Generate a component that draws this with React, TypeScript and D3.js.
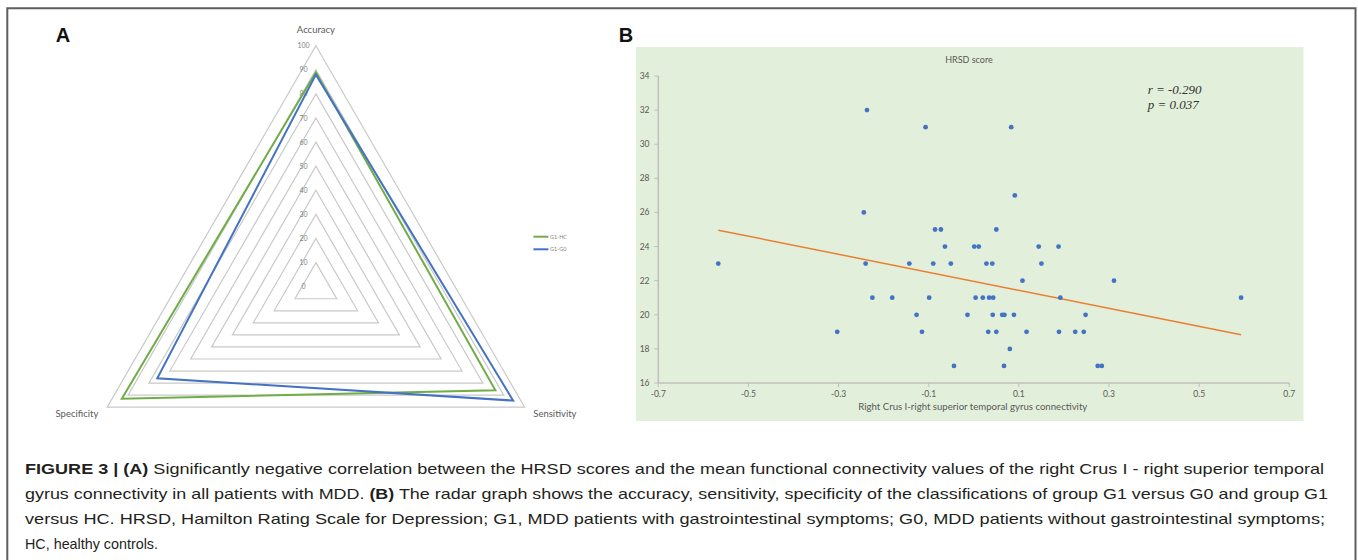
import * as d3 from 'd3';

// radar (panel A)
const radarAxes = ['Accuracy', 'Sensitivity', 'Specificity'];
const radarTicks = [0, 10, 20, 30, 40, 50, 60, 70, 80, 90, 100];
const seriesNames = ['G1-HC', 'G1-G0'];
const g1hc = [89, 86, 93];
const g1g0 = [88, 94.5, 76];

// scatter (panel B)
const connectivity = [
	-0.237, -0.107, 0.083, 0.091, -0.244, -0.086, -0.073, 0.050, -0.064, 0.001,
	0.011, 0.144, 0.188, -0.567, -0.240, -0.143, -0.090, -0.051, 0.028, 0.041,
	0.150, 0.108, 0.311, -0.225, -0.181, -0.099, 0.004, 0.020, 0.034, 0.043,
	0.192, 0.593, -0.127, -0.014, 0.042, 0.063, 0.068, 0.089, 0.248, -0.303,
	-0.115, 0.032, 0.050, 0.117, 0.189, 0.225, 0.244, 0.080, -0.044, 0.067,
	0.275, 0.284,
];
const hrsd = [
	32, 31, 31, 27, 26, 25, 25, 25, 24, 24,
	24, 24, 24, 23, 23, 23, 23, 23, 23, 23,
	23, 22, 22, 21, 21, 21, 21, 21, 21, 21,
	21, 21, 20, 20, 20, 20, 20, 20, 20, 19,
	19, 19, 19, 19, 19, 19, 19, 18, 17, 17,
	17, 17,
];
const xTicks = [-0.7, -0.5, -0.3, -0.1, 0.1, 0.3, 0.5, 0.7];
const yTicks = [16, 18, 20, 22, 24, 26, 28, 30, 32, 34];
const trendIntercept = 21.96;
const trendSlope = -5.29;

const captionLines: [string, boolean][][] = [
	[['FIGURE 3 | (A)', true], [' Significantly negative correlation between the HRSD scores and the mean functional connectivity values of the right Crus I - right superior temporal', false]],
	[['gyrus connectivity in all patients with MDD. ', false], ['(B)', true], [' The radar graph shows the accuracy, sensitivity, specificity of the classifications of group G1 versus G0 and group G1', false]],
	[['versus HC. HRSD, Hamilton Rating Scale for Depression; G1, MDD patients with gastrointestinal symptoms; G0, MDD patients without gastrointestinal symptoms;', false]],
	[['HC, healthy controls.', false]],
];
const captionWidths = [1299, 1303, 1300, 133];

const excelFont = 'Lato, "Open Sans", sans-serif';

function Radar() {
	const cx = 315.9, cy = 286.7;
	const r = d3.scaleLinear().domain([0, 100]).range([0, 241]);
	const angle = (i: number) => i * 2 * Math.PI / radarAxes.length;
	const poly = (vals: number[]) => d3.lineRadial<number>()
		.angle((_, i) => angle(i))
		.radius(v => r(v))
		.curve(d3.curveLinearClosed)(vals);
	const colors = ['#70ad47', '#4472c4'];
	const labelPos = [
		{ x: 0, y: -254 },
		{ x: 239, y: 130 },
		{ x: -239, y: 130 },
	];

	return (
		<g transform={`translate(${cx},${cy})`}>
			{radarTicks.slice(1).map(t => (
				<path key={t} d={poly(radarAxes.map(() => t)) ?? ''} fill='none' stroke='#c9c9c9' strokeWidth={1.2} />
			))}
			{radarTicks.map(t => (
				<text key={t} x={-12.4} y={-r(t) + 2.5} fontSize={7} fill='#7f7f7f' textAnchor='middle' fontFamily={excelFont}>{t}</text>
			))}
			{[g1hc, g1g0].map((s, i) => (
				<path key={i} d={poly(s) ?? ''} fill='none' stroke={colors[i]} strokeWidth={2} />
			))}
			{radarAxes.map((a, i) => (
				<text key={a} x={labelPos[i].x} y={labelPos[i].y} fontSize={9.5} fill='#595959' textAnchor='middle' fontFamily={excelFont}>{a}</text>
			))}
			{seriesNames.map((n, i) => (
				<g key={n} transform={`translate(${533.4 - cx},${236.7 + i * 12.6 - cy})`}>
					<line x1={0} x2={15} y1={0} y2={0} stroke={colors[i]} strokeWidth={2} />
					<text x={16.5} y={2} fontSize={5.5} fill='#7f7f7f' fontFamily={excelFont}>{n}</text>
				</g>
			))}
		</g>
	);
}

function Scatter() {
	const x = d3.scaleLinear().domain([-0.7, 0.7]).range([658.3, 1289.3]);
	const y = d3.scaleLinear().domain([16, 34]).range([383, 76]);
	const [xMin, xMax] = d3.extent(connectivity) as [number, number];
	const axisColor = '#bfbfbf';
	const tickColor = '#595959';

	return (
		<g>
			<rect x={636} y={47} width={667.5} height={374} fill='#e2efda' />
			<text x={969} y={63} fontSize={9} fill='#595959' textAnchor='middle' fontFamily={excelFont}>HRSD score</text>

			<line x1={x(-0.7)} x2={x(-0.7)} y1={y(16)} y2={y(34)} stroke={axisColor} strokeWidth={1.5} />
			<line x1={x(-0.7)} x2={x(0.7)} y1={y(16)} y2={y(16)} stroke={axisColor} strokeWidth={1.5} />
			{yTicks.map(t => (
				<g key={t}>
					<line x1={x(-0.7) - 4} x2={x(-0.7)} y1={y(t)} y2={y(t)} stroke={axisColor} strokeWidth={1} />
					<text x={649.5} y={y(t) + 3} fontSize={8.5} fill={tickColor} textAnchor='end' fontFamily={excelFont}>{t}</text>
				</g>
			))}
			{xTicks.map(t => (
				<g key={t}>
					<line x1={x(t)} x2={x(t)} y1={y(16)} y2={y(16) + 4} stroke={axisColor} strokeWidth={1} />
					<text x={x(t)} y={396.5} fontSize={8.5} fill={tickColor} textAnchor='middle' fontFamily={excelFont}>{t}</text>
				</g>
			))}
			<text x={972.8} y={410} fontSize={9.5} fill='#595959' textAnchor='middle' fontFamily={excelFont}
				textLength={229} lengthAdjust='spacingAndGlyphs'>Right Crus I-right superior temporal gyrus connectivity</text>

			<line
				x1={x(xMin)} y1={y(trendIntercept + trendSlope * xMin)}
				x2={x(xMax)} y2={y(trendIntercept + trendSlope * xMax)}
				stroke='#ed7d31' strokeWidth={1.5}
			/>
			{connectivity.map((c, i) => (
				<circle key={i} cx={x(c)} cy={y(hrsd[i])} r={2.4} fill='#4472c4' />
			))}

			<g fontFamily='"Liberation Serif", "DejaVu Serif", serif' fontStyle='italic' fontSize={13} fill='#333'>
				<text x={1147.7} y={93.5}>r = -0.290</text>
				<text x={1147.7} y={108.5}>p = 0.037</text>
			</g>
		</g>
	);
}

export default function App() {
	return (
		<svg width={1358} height={560} style={{ position: 'absolute', left: 0, top: 0 }}>
			<rect x={0} y={0} width={1358} height={560} fill='#fff' />
			<path d='M7.3,580 V8.3 H1355.5 V580' fill='none' stroke='#5e5e5e' strokeWidth={2} />

			<g fontFamily='"Liberation Sans", Arial, sans-serif' fontWeight='bold' fontSize={20} fill='#111'>
				<text x={63} y={41.7} textAnchor='middle'>A</text>
				<text x={626} y={41.7} textAnchor='middle'>B</text>
			</g>

			<Radar />
			<Scatter />

			<g fontFamily='"Liberation Sans", Arial, sans-serif' fontSize={15} fill='#231f20'>
				{captionLines.map((line, i) => (
					<text key={i} x={25} y={474 + i * 25} textLength={captionWidths[i]} lengthAdjust='spacingAndGlyphs'>
						{line.map(([s, b], j) => (
							<tspan key={j} fontWeight={b ? 'bold' : 'normal'}>{s}</tspan>
						))}
					</text>
				))}
			</g>
		</svg>
	);
}
